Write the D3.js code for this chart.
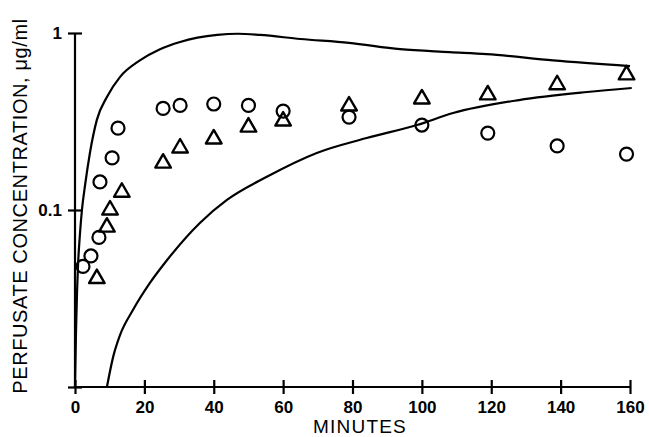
<!DOCTYPE html>
<html>
<head>
<meta charset="utf-8">
<script src="https://cdn.jsdelivr.net/npm/d3@7"></script>
<style>
  body { margin: 0; background: #fff; }
  text { font-family: "Liberation Sans", Arial, sans-serif; fill: #000; }
</style>
</head>
<body>
<div id="chart"></div>
<script>
// chart size
var width = 649, height = 437;

// readings: [minutes, ug/ml]
var circles = [[2.3, 0.048], [4.6, 0.055], [6.9, 0.070], [7.2, 0.144], [10.7, 0.197],
  [12.4, 0.29], [25.4, 0.375], [30.3, 0.39], [40, 0.397], [50, 0.39], [60, 0.362],
  [79, 0.335], [100, 0.302], [119, 0.272], [139, 0.23], [159, 0.207]];

var triangles = [[6.3, 0.041], [9.2, 0.080], [10.1, 0.100], [13.5, 0.126], [25.4, 0.184],
  [30.3, 0.224], [40, 0.252], [50, 0.294], [60, 0.318], [79, 0.387], [100, 0.424],
  [119, 0.447], [139, 0.51], [159, 0.58]];

var upperCurve = [[0, 0.01], [0.3, 0.021], [0.6, 0.035], [0.9, 0.050], [1.4, 0.072],
  [2.0, 0.100], [2.9, 0.138], [4.3, 0.21], [6.3, 0.323], [9.2, 0.435], [13, 0.565],
  [18.7, 0.70], [24.5, 0.81], [30.3, 0.89], [41, 0.975], [47, 0.99], [53.3, 0.975],
  [65, 0.925], [79, 0.88], [93.7, 0.81], [108, 0.78], [118.7, 0.76], [137.8, 0.70],
  [160, 0.65]];

var lowerCurve = [[9.2, 0.01], [11, 0.0148], [13, 0.0197], [16.7, 0.0272], [21.6, 0.0387],
  [26.5, 0.052], [36, 0.0845], [43.8, 0.114], [55.3, 0.154], [69.7, 0.21], [84.1, 0.255],
  [98.6, 0.302], [109, 0.353], [128, 0.418], [147.6, 0.464], [160.5, 0.489]];

var xTicks = [0, 20, 40, 60, 80, 100, 120, 140, 160];
var yTicks = [0.01, 0.1, 1];
var yTickLabels = ["", "0.1", "1"];

var svg = d3.select("#chart").append("svg")
    .attr("width", width)
    .attr("height", height);

var x = d3.scaleLinear().domain([0, 160]).range([75, 630]);
var y = d3.scaleLog().domain([0.01, 1]).range([387, 33]);

// x axis, ticks crossing the line
var xAxis = svg.append("g")
    .attr("transform", "translate(0," + y(0.01) + ")")
    .call(d3.axisBottom(x).tickValues(xTicks).tickSize(7).tickPadding(7).tickFormat(d3.format("d")));
xAxis.select(".domain").attr("stroke-width", 2.2).attr("d", "M" + x(0) + ",0H" + x(160));
xAxis.selectAll(".tick line").attr("y1", -7).attr("stroke-width", 2.2);
xAxis.selectAll(".tick text")
    .style("font-size", "17px").style("font-weight", "bold");

// y axis
var yAxis = svg.append("g")
    .attr("transform", "translate(" + x(0) + ",0)")
    .call(d3.axisLeft(y).tickValues(yTicks).tickSize(7).tickPadding(6)
      .tickFormat(function(d, i) { return yTickLabels[i]; }));
yAxis.select(".domain").attr("stroke-width", 2.2).attr("d", "M0," + y(0.01) + "V" + y(1));
yAxis.selectAll(".tick line").attr("x1", 7).attr("stroke-width", 2.2);
yAxis.selectAll(".tick text")
    .style("font-size", "17px").style("font-weight", "bold");

// axis titles
svg.append("text")
    .text("MINUTES")
    .attr("x", 360)
    .attr("y", 433)
    .attr("text-anchor", "middle")
    .style("font-size", "19px")
    .style("letter-spacing", "1.2px");

svg.append("text")
    .text("PERFUSATE CONCENTRATION, \u03bcg/ml")
    .attr("transform", "translate(27,206) rotate(-90)")
    .attr("text-anchor", "middle")
    .style("font-size", "20px")
    .style("letter-spacing", "0.6px");

// curves
var line = d3.line()
    .x(function(d) { return x(d[0]); })
    .y(function(d) { return y(d[1]); })
    .curve(d3.curveMonotoneX);

svg.selectAll(".curve")
  .data([upperCurve, lowerCurve])
  .enter()
  .append("path")
  .attr("class", "curve")
  .attr("d", line)
  .attr("fill", "none")
  .attr("stroke", "#000")
  .attr("stroke-width", 2.2);

// markers
svg.selectAll(".circ")
  .data(circles)
  .enter()
  .append("circle")
  .attr("class", "circ")
  .attr("cx", function(d) { return x(d[0]); })
  .attr("cy", function(d) { return y(d[1]); })
  .attr("r", 6.5)
  .attr("fill", "none")
  .attr("stroke", "#000")
  .attr("stroke-width", 2.2);

svg.selectAll(".tri")
  .data(triangles)
  .enter()
  .append("path")
  .attr("class", "tri")
  .attr("d", d3.symbol().type(d3.symbolTriangle).size(105))
  .attr("fill", "none")
  .attr("stroke", "#000")
  .attr("stroke-width", 2.4)
  .attr("stroke-linejoin", "round")
  .attr("transform", function(d) {
    return "translate(" + x(d[0]) + "," + y(d[1]) + ")";
  });
</script>
</body>
</html>
